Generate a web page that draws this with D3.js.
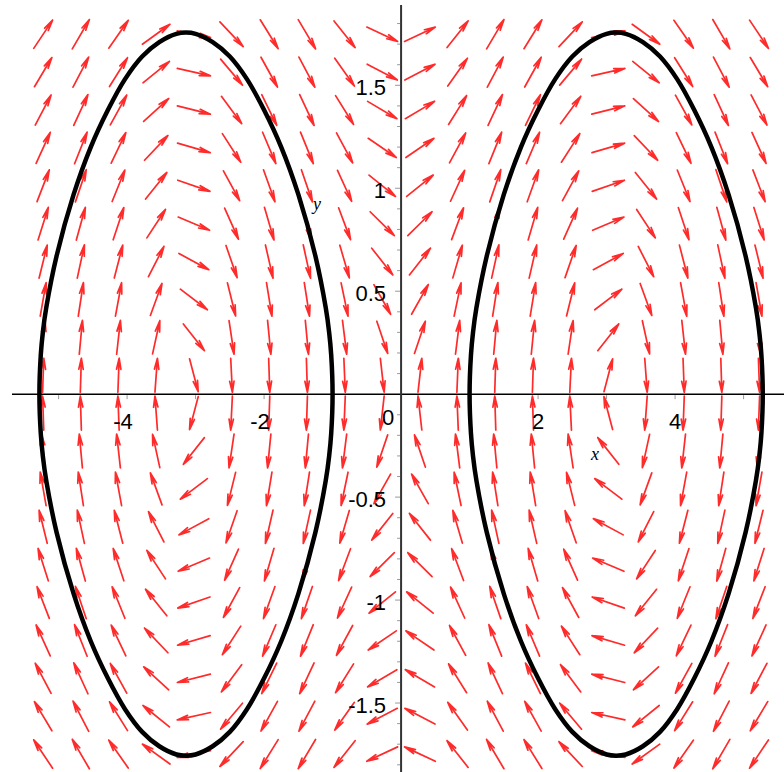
<!DOCTYPE html>
<html>
<head>
<meta charset="utf-8">
<script src="https://cdn.jsdelivr.net/npm/d3@7"></script>
<style>
    body { margin: 0; background: white; }
    svg { display: block; }
</style>
</head>
<body>
<div id="chart"></div>
<script>
// Axis window
const xDomain = [-5.68, 5.59];
const yDomain = [1.89, -1.835];

// Arrow grid (20 x 20) centres
const gridX = [-5.225, -4.675, -4.125, -3.575, -3.025, -2.475, -1.925, -1.375, -0.825, -0.275,
    0.275, 0.825, 1.375, 1.925, 2.475, 3.025, 3.575, 4.125, 4.675, 5.225];
const gridY = [-1.748, -1.564, -1.38, -1.196, -1.012, -0.828, -0.644, -0.46, -0.276, -0.092,
    0.092, 0.276, 0.46, 0.644, 0.828, 1.012, 1.196, 1.38, 1.564, 1.748];

// Tick values and labels
const xTickValues = [-5, -4, -3, -2, -1, 1, 2, 3, 4, 5];
const xTickLabels = [-4, -2, 2, 4];
const yTickValues = d3.range(-18, 19).filter(d => d !== 0).map(d => d / 10);
const yTickLabels = [-1.5, -1, -0.5, 0.5, 1, 1.5];

// Upper half of the right orbit (x, y)
const rightOrbitX = [1.0, 1.02, 1.05, 1.1, 1.25, 1.5, 1.75, 2.0, 2.25, 2.5, 2.75, 3.0, 3.14,
    3.28, 3.53, 3.78, 4.03, 4.28, 4.53, 4.78, 5.03, 5.18, 5.23, 5.26, 5.28];
const rightOrbitY = [0, 0.19, 0.3, 0.42, 0.67, 0.97, 1.2, 1.38, 1.53, 1.64, 1.71, 1.75, 1.756,
    1.75, 1.71, 1.64, 1.53, 1.38, 1.2, 0.97, 0.67, 0.42, 0.3, 0.19, 0];
// Upper half of the left orbit
const leftOrbitX = [-5.28, -5.26, -5.23, -5.18, -5.03, -4.78, -4.53, -4.28, -4.03, -3.78, -3.53,
    -3.28, -3.14, -3.0, -2.75, -2.5, -2.25, -2.0, -1.75, -1.5, -1.25, -1.1, -1.05, -1.02, -1.0];
const leftOrbitY = [0, 0.19, 0.3, 0.42, 0.67, 0.97, 1.2, 1.38, 1.53, 1.64, 1.71, 1.75, 1.756,
    1.75, 1.71, 1.64, 1.53, 1.38, 1.2, 0.97, 0.67, 0.42, 0.3, 0.19, 0];

// system x' = y, y' = sin(x)
function field(x, y) {
    return { dx: y, dy: Math.sin(x) };
}

const width = 784;
const height = 772;

const xScale = d3.scaleLinear().domain(xDomain).range([12, 784]);
const yScale = d3.scaleLinear().domain(yDomain).range([5, 772]);
const x0 = xScale(0);
const y0 = yScale(0);

const svg = d3.select('#chart')
    .append('svg')
    .attr('width', width)
    .attr('height', height);

// Direction field
const arrowLen = 34;
const headLen = 11;
const headHalf = 2.2;
const cells = [];
gridX.forEach(gx => gridY.forEach(gy => cells.push({ x: gx, y: gy })));

svg.append('g')
    .attr('class', 'arrows')
    .selectAll('path')
    .data(cells)
    .enter()
    .append('path')
    .attr('d', function (d) {
        const v = field(d.x, d.y);
        // direction in screen space
        let px = xScale(d.x + v.dx) - xScale(d.x);
        let py = yScale(d.y + v.dy) - yScale(d.y);
        const n = Math.hypot(px, py) || 1;
        px /= n;
        py /= n;
        const cx = xScale(d.x);
        const cy = yScale(d.y);
        const tx = cx - px * arrowLen / 2, ty = cy - py * arrowLen / 2;
        const hx = cx + px * arrowLen / 2, hy = cy + py * arrowLen / 2;
        const bx = hx - px * headLen, by = hy - py * headLen;
        return 'M' + tx + ',' + ty + 'L' + hx + ',' + hy +
            'M' + (bx - py * headHalf) + ',' + (by + px * headHalf) + 'L' + hx + ',' + hy +
            'L' + (bx + py * headHalf) + ',' + (by - px * headHalf);
    })
    .style('fill', 'none')
    .style('stroke', '#ff2a2a')
    .style('stroke-width', 1.7)
    .style('stroke-linecap', 'round')
    .style('stroke-linejoin', 'round');

// Axes
const axes = svg.append('g').attr('class', 'axes');
axes.append('line')
    .attr('x1', 12).attr('x2', width)
    .attr('y1', y0).attr('y2', y0)
    .style('stroke', '#000').style('stroke-width', 1.5);
axes.append('line')
    .attr('x1', x0).attr('x2', x0)
    .attr('y1', 5).attr('y2', height)
    .style('stroke', '#333').style('stroke-width', 2);

axes.selectAll('.xtick')
    .data(xTickValues)
    .enter()
    .append('line')
    .attr('class', 'xtick')
    .attr('x1', d => xScale(d)).attr('x2', d => xScale(d))
    .attr('y1', y0 + 1).attr('y2', y0 + 5)
    .style('stroke', '#999').style('stroke-width', 1);

axes.selectAll('.ytick')
    .data(yTickValues)
    .enter()
    .append('line')
    .attr('class', 'ytick')
    .attr('x1', x0 - 1)
    .attr('x2', d => Math.abs(d * 2 - Math.round(d * 2)) < 1e-6 ? x0 - 6 : x0 - 4)
    .attr('y1', d => yScale(d)).attr('y2', d => yScale(d))
    .style('stroke', '#999').style('stroke-width', 1);

// Orbits
const orbitLine = d3.line()
    .x(d => xScale(d[0]))
    .y(d => yScale(d[1]))
    .curve(d3.curveCatmullRomClosed);

function orbitRing(xs, ys) {
    const upper = xs.map((x, i) => [x, ys[i]]);
    const lower = xs.slice(1, -1).map((x, i) => [x, -ys[i + 1]]).reverse();
    return upper.concat(lower);
}

svg.append('g')
    .attr('class', 'orbits')
    .selectAll('path')
    .data([orbitRing(leftOrbitX, leftOrbitY), orbitRing(rightOrbitX, rightOrbitY)])
    .enter()
    .append('path')
    .attr('d', orbitLine)
    .style('fill', 'none')
    .style('stroke', '#000')
    .style('stroke-width', 4.5);

// Tick labels
const labelFont = '"Liberation Sans", Arial, sans-serif';
svg.append('g')
    .selectAll('text')
    .data(xTickLabels)
    .enter()
    .append('text')
    .attr('x', d => xScale(d) - (d < 0 ? 4 : 0))
    .attr('y', y0 + 35)
    .attr('text-anchor', 'middle')
    .style('font-family', labelFont)
    .style('font-size', '22px')
    .text(d => String(d));

svg.append('g')
    .selectAll('text')
    .data(yTickLabels)
    .enter()
    .append('text')
    .attr('x', x0 - 15)
    .attr('y', d => yScale(d) + 9.5)
    .attr('text-anchor', 'end')
    .style('font-family', labelFont)
    .style('font-size', '22px')
    .text(d => String(d));

svg.append('text')
    .attr('x', x0 - 13)
    .attr('y', y0 + 31)
    .attr('text-anchor', 'middle')
    .style('font-family', labelFont)
    .style('font-size', '22px')
    .text('0');

// Axis names
svg.append('text')
    .attr('x', 595)
    .attr('y', 460)
    .attr('text-anchor', 'middle')
    .style('font-family', '"Liberation Serif", serif')
    .style('font-style', 'italic')
    .style('font-size', '18px')
    .text('x');

svg.append('text')
    .attr('x', 317)
    .attr('y', 210)
    .attr('text-anchor', 'middle')
    .style('font-family', '"Liberation Serif", serif')
    .style('font-style', 'italic')
    .style('font-size', '18px')
    .text('y');
</script>
</body>
</html>
